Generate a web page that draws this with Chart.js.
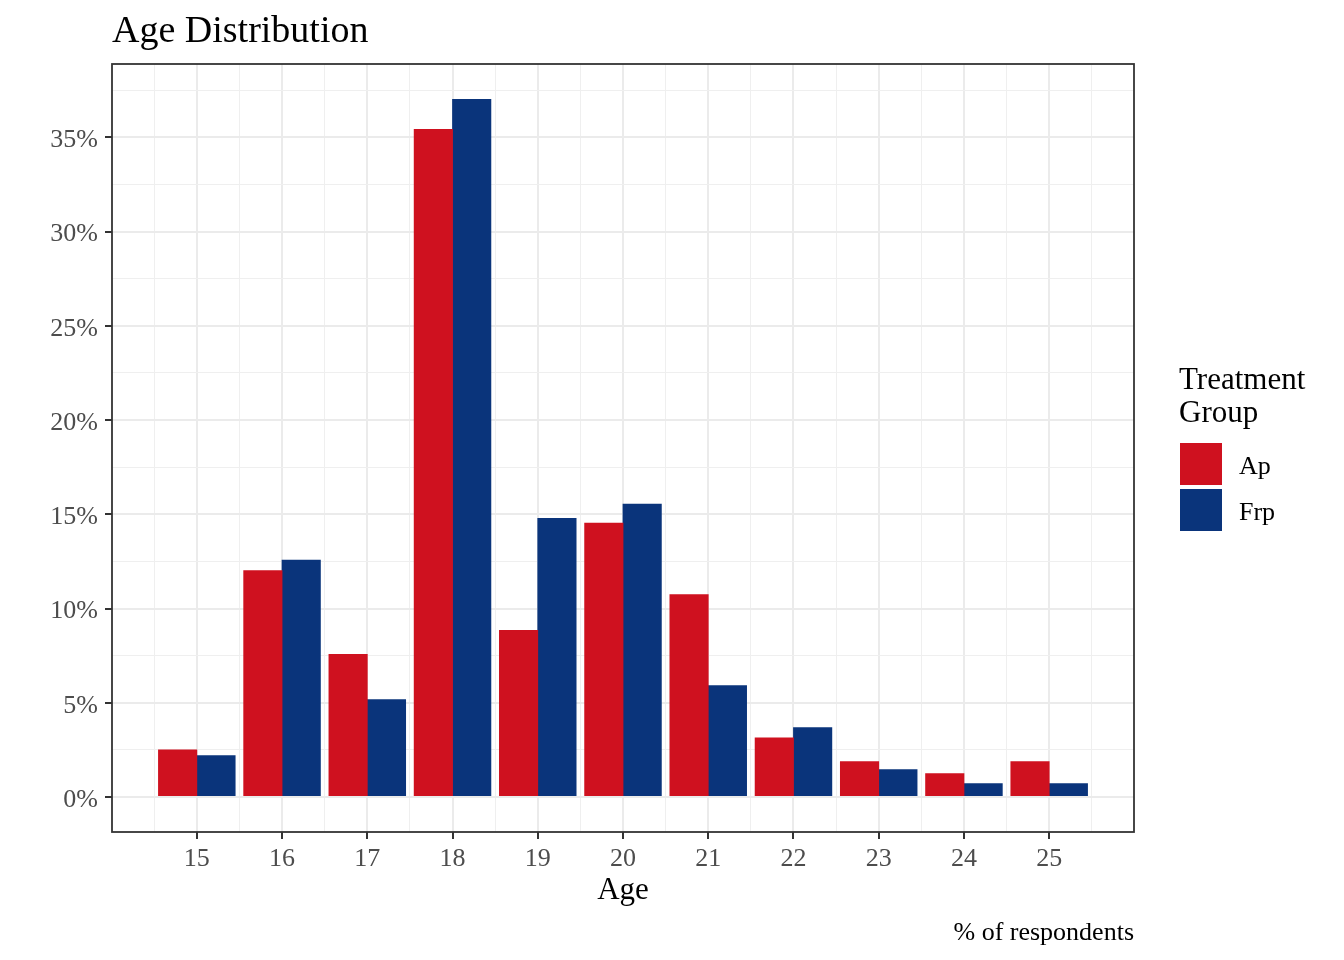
<!DOCTYPE html>
<html><head><meta charset="utf-8">
<script src="https://cdn.jsdelivr.net/npm/chart.js@4.4.1/dist/chart.umd.min.js"></script>
<style>html,body{margin:0;padding:0;background:#fff;}#wrap{width:1344px;height:960px;}</style>
</head><body><div id="wrap"><canvas id="c" width="1344" height="960"></canvas></div>
<script>
// ---- data ----
const ages = [15, 16, 17, 18, 19, 20, 21, 22, 23, 24, 25];
const apValues  = [2.53, 12.03, 7.59, 35.44, 8.86, 14.56, 10.76, 3.16, 1.90, 1.27, 1.90];
const frpValues = [2.22, 12.59, 5.19, 37.04, 14.81, 15.56, 5.93, 3.70, 1.48, 0.74, 0.74];
const seriesNames = ['Ap', 'Frp'];
const seriesColors = ['#CF111F', '#0A347B'];
const chartTitle = 'Age Distribution';
const xAxisTitle = 'Age';
const captionText = '% of respondents';
const legendTitle = ['Treatment', 'Group'];

const FONT = '"Liberation Serif", "Times New Roman", serif';
const allVals = apValues.concat(frpValues);
const vMax = Math.max(...allVals);
const yMin = -0.05 * vMax, yMax = 1.05 * vMax;
const xLo = ages[0] - 0.45, xHi = ages[ages.length - 1] + 0.45;
const xPad = 0.05 * (xHi - xLo);

const isMajorY = v => Math.abs(v / 5 - Math.round(v / 5)) < 1e-6;
const isMajorX = v => Math.abs(v - Math.round(v)) < 1e-6;

const decor = {
  id: 'decor',
  afterDraw(chart) {
    const {ctx, chartArea: a} = chart;
    ctx.save();
    ctx.strokeStyle = '#333333';
    ctx.lineWidth = 1.8;
    ctx.strokeRect(a.left, a.top, a.right - a.left, a.bottom - a.top);
    ctx.textBaseline = 'alphabetic';
    ctx.fillStyle = '#000';
    ctx.font = '38px ' + FONT;
    ctx.textAlign = 'left';
    ctx.fillText(chartTitle, a.left, 42);
    ctx.font = '31px ' + FONT;
    ctx.textAlign = 'center';
    ctx.fillText(xAxisTitle, (a.left + a.right) / 2, 899);
    ctx.font = '26px ' + FONT;
    ctx.textAlign = 'right';
    ctx.fillText(captionText, a.right, 940);
    // legend
    const lx = a.right + 45;
    ctx.textAlign = 'left';
    ctx.font = '31px ' + FONT;
    legendTitle.forEach((t, i) => ctx.fillText(t, lx, 389 + 33 * i));
    chart.data.datasets.forEach((ds, i) => {
      ctx.fillStyle = ds.backgroundColor;
      ctx.fillRect(lx + 1, 443 + 46 * i, 42, 42);
      ctx.fillStyle = '#000';
      ctx.font = '26px ' + FONT;
      ctx.fillText(ds.label, lx + 60, 474 + 46 * i);
    });
    ctx.restore();
  }
};

new Chart(document.getElementById('c'), {
  type: 'bar',
  data: {
    datasets: [
      {label: seriesNames[0], data: ages.map((x, i) => ({x, y: apValues[i]})), backgroundColor: seriesColors[0], borderWidth: 0},
      {label: seriesNames[1], data: ages.map((x, i) => ({x, y: frpValues[i]})), backgroundColor: seriesColors[1], borderWidth: 0}
    ]
  },
  options: {
    responsive: false,
    animation: false,
    devicePixelRatio: 1,
    // bar ruler uses the 0.5-step tick spacing, so 1.8 of it = 0.9 age units per pair
    categoryPercentage: 1.8,
    barPercentage: 1.02,
    layout: {padding: {top: 64, right: 210, bottom: 0, left: 0}},
    plugins: {legend: {display: false}, title: {display: false}, tooltip: {enabled: false}},
    scales: {
      x: {
        type: 'linear',
        offset: false,
        min: xLo - xPad,
        max: xHi + xPad,
        afterFit: s => { s.height = 128; },
        grid: {
          offset: false,
          drawTicks: true,
          tickLength: 7,
          color: c => isMajorX(c.tick.value) ? '#EBEBEB' : '#EFEFEF',
          lineWidth: c => isMajorX(c.tick.value) ? 2 : 1,
          tickColor: c => isMajorX(c.tick.value) ? '#333333' : 'rgba(0,0,0,0)',
          tickWidth: 2
        },
        border: {display: false},
        ticks: {
          stepSize: 0.5,
          includeBounds: false,
          autoSkip: false,
          maxRotation: 0,
          padding: 5,
          color: '#4D4D4D',
          font: {family: FONT, size: 26},
          callback: v => isMajorX(v) ? String(Math.round(v)) : ''
        }
      },
      y: {
        type: 'linear',
        min: yMin,
        max: yMax,
        afterFit: s => { s.width = 112; },
        grid: {
          drawTicks: true,
          tickLength: 7,
          color: c => isMajorY(c.tick.value) ? '#EBEBEB' : '#EFEFEF',
          lineWidth: c => isMajorY(c.tick.value) ? 2 : 1,
          tickColor: c => isMajorY(c.tick.value) ? '#333333' : 'rgba(0,0,0,0)',
          tickWidth: 2
        },
        border: {display: false},
        ticks: {
          stepSize: 2.5,
          includeBounds: false,
          autoSkip: false,
          padding: 7,
          labelOffset: 3,
          color: '#4D4D4D',
          font: {family: FONT, size: 26},
          callback: v => isMajorY(v) ? Math.round(v) + '%' : ''
        }
      }
    }
  },
  plugins: [decor]
});
</script></body></html>
